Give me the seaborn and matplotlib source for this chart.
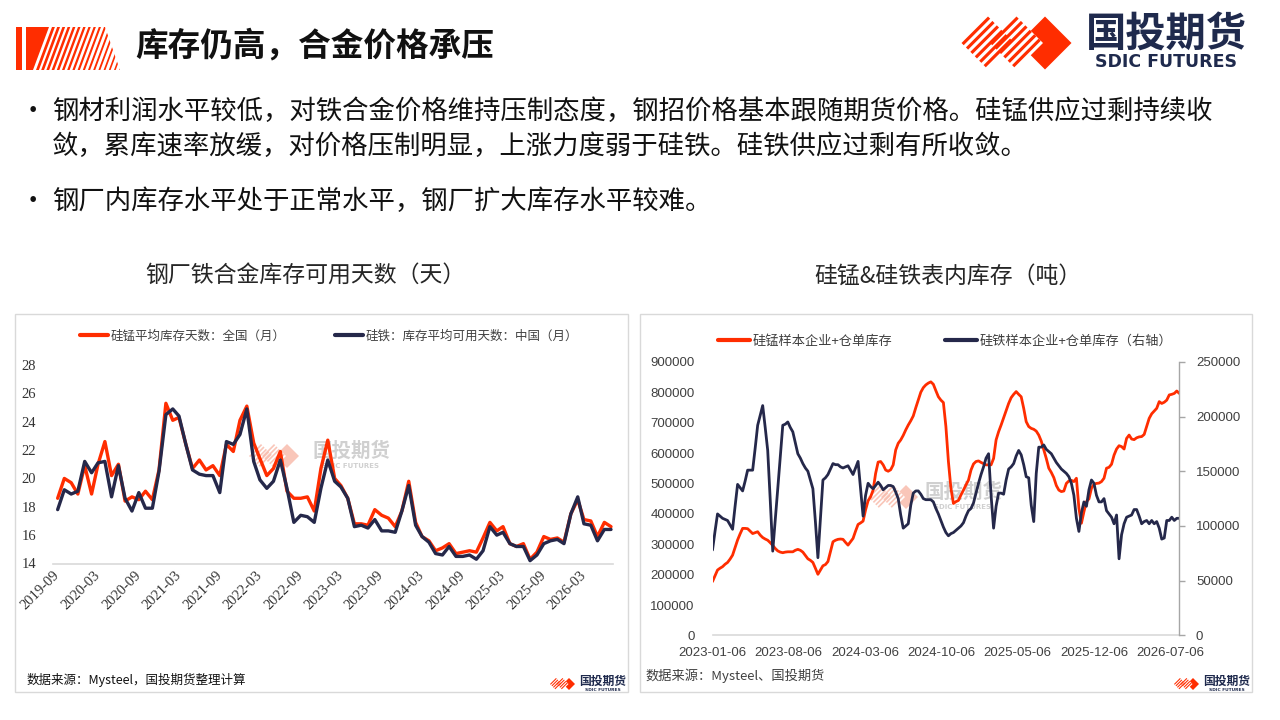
import numpy as np
import pandas as pd
import matplotlib
matplotlib.use('Agg')
import matplotlib.pyplot as plt
from matplotlib.patches import Polygon, Rectangle
from matplotlib.lines import Line2D
import seaborn as sns

# ---- 左图：钢厂铁合金库存可用天数（月度）----
month_dates = pd.date_range('2019-09-01', periods=83, freq='MS')
simn_days = [18.6, 20.0, 19.7, 18.9, 20.9, 18.9, 21.0, 22.6, 20.2, 21.0,
             18.4, 18.7, 18.5, 19.1, 18.5, 20.6, 25.3, 24.1, 24.3, 22.4,
             20.7, 21.3, 20.6, 20.9, 20.2, 22.4, 21.9, 24.1, 25.1, 22.5,
             21.4, 20.2, 20.7, 21.9, 19.1, 18.6, 18.6, 18.7, 17.7, 20.7,
             22.7, 20.0, 19.5, 18.6, 16.8, 16.8, 16.7, 17.8, 17.4, 17.2,
             16.6, 17.7, 19.8, 16.9, 15.9, 15.6, 14.9, 15.1, 15.4, 14.7,
             14.8, 14.9, 14.8, 15.8, 16.9, 16.3, 16.6, 15.4, 15.2, 15.4,
             14.3, 14.8, 15.9, 15.7, 15.8, 15.5, 17.5, 18.5, 17.1, 17.0,
             15.9, 16.9, 16.6]
fesi_days = [17.8, 19.2, 18.9, 19.1, 21.2, 20.4, 21.1, 21.2, 18.7, 20.9,
             18.6, 17.7, 19.0, 17.9, 17.9, 20.5, 24.5, 24.9, 24.4, 22.4,
             20.6, 20.3, 20.2, 20.2, 19.0, 22.6, 22.4, 23.1, 24.9, 21.2,
             19.9, 19.3, 19.8, 21.3, 19.3, 16.9, 17.4, 17.3, 16.9, 19.3,
             21.3, 19.8, 19.4, 18.6, 16.6, 16.7, 16.5, 17.1, 16.3, 16.3,
             16.2, 17.7, 19.5, 16.7, 15.9, 15.5, 14.7, 14.6, 15.2, 14.5,
             14.5, 14.6, 14.3, 14.9, 16.6, 16.0, 16.2, 15.4, 15.2, 15.2,
             14.2, 14.6, 15.4, 15.6, 15.7, 15.4, 17.5, 18.7, 16.8, 16.7,
             15.6, 16.4, 16.4]
left_legend = ['硅锰平均库存天数：全国（月）', '硅铁：库存平均可用天数：中国（月）']

# ---- 右图：硅锰&硅铁表内库存（周度，吨）----
week_dates = pd.date_range('2023-01-06', periods=187, freq='7D')
simn_stock = [177000, 196000, 215000, 221000, 226000, 234000, 240000, 251000, 264000, 289000,
              314000, 334000, 352000, 352000, 351000, 343000, 335000, 338000, 341000, 330000,
              322000, 317000, 313000, 305000, 296000, 286000, 278000, 274000, 272000, 274000,
              275000, 275000, 275000, 280000, 283000, 280000, 274000, 263000, 252000, 247000,
              240000, 221000, 201000, 215000, 229000, 233000, 243000, 275000, 308000, 313000,
              316000, 317000, 316000, 306000, 297000, 308000, 319000, 343000, 365000, 370000,
              376000, 413000, 443000, 456000, 478000, 533000, 570000, 572000, 561000, 544000,
              540000, 545000, 561000, 610000, 632000, 643000, 658000, 676000, 692000, 706000,
              722000, 749000, 774000, 800000, 815000, 824000, 830000, 834000, 826000, 805000,
              785000, 774000, 766000, 687000, 572000, 484000, 434000, 440000, 444000, 462000,
              478000, 495000, 511000, 544000, 564000, 572000, 574000, 569000, 565000, 561000,
              561000, 561000, 582000, 643000, 670000, 692000, 716000, 741000, 763000, 782000,
              793000, 802000, 793000, 785000, 747000, 703000, 687000, 681000, 678000, 672000,
              659000, 639000, 610000, 582000, 550000, 536000, 519000, 493000, 478000, 473000,
              475000, 500000, 508000, 510000, 506000, 517000, 418000, 369000, 407000, 440000,
              449000, 484000, 497000, 500000, 501000, 506000, 517000, 550000, 553000, 563000,
              593000, 613000, 624000, 621000, 613000, 648000, 659000, 646000, 644000, 650000,
              653000, 654000, 661000, 687000, 714000, 729000, 738000, 747000, 769000, 763000,
              767000, 774000, 791000, 793000, 796000, 804000, 796000]
fesi_stock = [78000, 95000, 111000, 109000, 107000, 106000, 105000, 101000, 97000, 118000,
              138000, 135000, 132000, 141000, 151000, 151000, 151000, 171000, 192000, 201000,
              210000, 190000, 169000, 124000, 77000, 105000, 134000, 163000, 192000, 193000,
              195000, 190000, 186000, 176000, 166000, 162000, 157000, 153000, 150000, 142000,
              134000, 104000, 71000, 107000, 142000, 144000, 147000, 152000, 157000, 156000,
              156000, 154000, 153000, 154000, 155000, 151000, 147000, 153000, 159000, 134000,
              109000, 128000, 139000, 136000, 134000, 137000, 140000, 137000, 133000, 135000,
              137000, 137000, 136000, 131000, 125000, 110000, 98000, 100000, 102000, 119000,
              130000, 132000, 132000, 129000, 125000, 124000, 124000, 124000, 122000, 116000,
              111000, 105000, 99000, 94000, 91000, 93000, 94000, 96000, 98000, 100000,
              103000, 109000, 114000, 116000, 121000, 130000, 139000, 147000, 154000, 162000,
              166000, 128000, 98000, 118000, 130000, 130000, 129000, 142000, 152000, 154000,
              157000, 164000, 169000, 165000, 156000, 145000, 144000, 119000, 104000, 148000,
              172000, 172000, 174000, 170000, 168000, 166000, 162000, 158000, 155000, 152000,
              150000, 148000, 145000, 139000, 128000, 107000, 95000, 112000, 122000, 118000,
              133000, 142000, 139000, 128000, 122000, 122000, 125000, 114000, 111000, 108000,
              102000, 110000, 70000, 92000, 102000, 108000, 109000, 110000, 115000, 115000,
              109000, 102000, 104000, 105000, 102000, 105000, 102000, 104000, 98000, 88000,
              89000, 105000, 105000, 108000, 105000, 107000, 107000]
right_legend = ['硅锰样本企业+仓单库存', '硅铁样本企业+仓单库存（右轴）']
right_ticks = ['2023-01-06', '2023-08-06', '2024-03-06', '2024-10-06',
               '2025-05-06', '2025-12-06', '2026-07-06']

title = '库存仍高，合金价格承压'
bullets = [
    ['钢材利润水平较低，对铁合金价格维持压制态度，钢招价格基本跟随期货价格。硅锰供应过剩持续收',
     '敛，累库速率放缓，对价格压制明显，上涨力度弱于硅铁。硅铁供应过剩有所收敛。'],
    ['钢厂内库存水平处于正常水平，钢厂扩大库存水平较难。'],
]

RED = '#FF2D00'
NAVY = '#25284A'
GRID_GRAY = '#D9D9D9'
W, H = 1280, 720

sns.set_theme(style='white')
plt.rcParams['font.family'] = ['Noto Sans CJK SC', 'DejaVu Sans']
plt.rcParams['axes.unicode_minus'] = False

fig = plt.figure(figsize=(12.8, 7.2), dpi=100)
fig.patch.set_facecolor('white')


def box(x0, y0, x1, y1):
    # 像素坐标（左上为原点）转为 figure 坐标
    return [x0 / W, 1 - y1 / H, (x1 - x0) / W, (y1 - y0) / H]


bg = fig.add_axes([0, 0, 1, 1])
bg.set_xlim(0, W)
bg.set_ylim(H, 0)
bg.axis('off')
bg.set_zorder(0)

r2 = np.sqrt(2)


def diamond_pts(cx, cy, h):
    return [(cx, cy - h), (cx + h, cy), (cx, cy + h), (cx - h, cy)]


def draw_logo(cx, cy, h, gap, color=RED, alpha=1.0, n=6):
    s = h * r2

    def pt(ox, u, v):
        return (ox + (u + v) / r2, cy + (-u + v) / r2)

    bg.add_patch(Polygon(diamond_pts(cx, cy, h), closed=True, fc=color, ec='none', alpha=alpha))
    for k, ox in enumerate((cx - gap, cx - 2 * gap)):
        if k == 0:
            bg.add_patch(Polygon(diamond_pts(ox, cy, h), closed=True, fc='white', ec='none'))
        step = s / n
        for i in range(n):
            v0 = -s / 2 + i * step
            v1 = v0 + step * 0.5
            poly = [pt(ox, -s / 2, v0), pt(ox, s / 2, v0), pt(ox, s / 2, v1), pt(ox, -s / 2, v1)]
            bg.add_patch(Polygon(poly, closed=True, fc=color, ec='none', alpha=alpha))


# 左上角条纹标志
bg.add_patch(Rectangle((16, 27), 6, 43, fc=RED, ec='none'))
clip = Polygon([(26, 27), (105, 27), (120, 70), (26, 70)], closed=True, transform=bg.transData)
solid = Polygon([(26, 27), (49, 27), (33, 70), (26, 70)], closed=True, fc=RED, ec='none')
bg.add_patch(solid)
for i in range(18):
    t = 52 + i * 5.2
    wdt = 2.9 - i * 0.08
    p = Polygon([(t, 27), (t + wdt, 27), (t + wdt - 16, 70), (t - 16, 70)], closed=True, fc=RED, ec='none')
    bg.add_patch(p)
    p.set_clip_path(clip)

bg.text(135, 46, title, fontsize=23.5, fontweight='bold', color='#111111', va='center', ha='left')

# 右上角标志
draw_logo(1045, 43, 26.5, 28.5)
bg.text(1166, 35, '国投期货', fontsize=29, fontweight='bold', color='#1F2A4D', ha='center', va='center')
bg.text(1166, 62, 'SDIC FUTURES', fontsize=12.5, fontweight='bold', color='#1F2A4D', ha='center', va='center',
        family=['DejaVu Sans'])

# 要点文字
y_pos = [[111, 146], [201]]
for lines, ys in zip(bullets, y_pos):
    bg.text(33, ys[0], '•', fontsize=19, color='#111111', ha='center', va='center')
    for line, yy in zip(lines, ys):
        bg.text(52, yy, line, fontsize=19, color='#111111', ha='left', va='center')

# 图标题
bg.text(305, 276, '钢厂铁合金库存可用天数（天）', fontsize=16.5, color='#262626', ha='center', va='center')
bg.text(948, 276, '硅锰&硅铁表内库存（吨）', fontsize=16.5, color='#262626', ha='center', va='center')

# 图框
bg.add_patch(Rectangle((15, 314), 613, 378, fc='none', ec=GRID_GRAY, lw=1))
bg.add_patch(Rectangle((640, 314), 612, 378, fc='none', ec=GRID_GRAY, lw=1))

# 水印
draw_logo(287, 456, 12, 13, color='#F8B8A8', alpha=0.8, n=5)
bg.text(351, 451, '国投期货', fontsize=14, fontweight='bold', color='#D0D0D0', ha='center', va='center')
bg.text(351, 466, 'SDIC FUTURES', fontsize=5, fontweight='bold', color='#D0D0D0', ha='center', va='center',
        family=['DejaVu Sans'])
draw_logo(906, 497, 12, 13, color='#F8B8A8', alpha=0.8, n=5)
bg.text(963, 492, '国投期货', fontsize=14, fontweight='bold', color='#D0D0D0', ha='center', va='center')
bg.text(963, 507, 'SDIC FUTURES', fontsize=5, fontweight='bold', color='#D0D0D0', ha='center', va='center',
        family=['DejaVu Sans'])

# 数据来源与小标志
bg.text(27, 680, '数据来源：Mysteel，国投期货整理计算', fontsize=9, color='#111111', ha='left', va='center')
bg.text(645, 676, '数据来源：Mysteel、国投期货', fontsize=9.5, color='#404040', ha='left', va='center')
for cx in (569, 1193):
    draw_logo(cx, 684, 6, 6.5, n=4)
    bg.text(cx + 34, 681, '国投期货', fontsize=8.5, fontweight='bold', color='#1F2A4D', ha='center', va='center')
    bg.text(cx + 34, 690, 'SDIC FUTURES', fontsize=3.2, fontweight='bold', color='#1F2A4D', ha='center',
            va='center', family=['DejaVu Sans'])

# ---- 左图 ----
axL = fig.add_axes(box(53, 365, 613, 563.5))
axL.set_facecolor('none')
sns.lineplot(x=month_dates, y=simn_days, ax=axL, color=RED, linewidth=2.4)
sns.lineplot(x=month_dates, y=fesi_days, ax=axL, color=NAVY, linewidth=2.4)
axL.set_ylim(14, 28)
axL.set_yticks(np.arange(14, 29, 2))
axL.set_xlim(month_dates[0] - pd.Timedelta(days=21), month_dates[-1] + pd.Timedelta(days=9))
xt = month_dates[::6]
axL.set_xticks(xt)
axL.set_xticklabels([d.strftime('%Y-%m') for d in xt], rotation=45, ha='right', va='center',
                    rotation_mode='anchor')
axL.tick_params(axis='y', length=0, pad=12, labelsize=10.5, labelcolor='#333333')
axL.tick_params(axis='x', length=0, pad=7, labelsize=10.5, labelcolor='#333333')
for lab in axL.get_xticklabels() + axL.get_yticklabels():
    lab.set_family(['Liberation Serif', 'DejaVu Serif'])
axL.set_xlabel('')
axL.set_ylabel('')
for side in ('top', 'right', 'left'):
    axL.spines[side].set_visible(False)
axL.spines['bottom'].set_color(GRID_GRAY)
axL.spines['bottom'].set_linewidth(1.2)
axL.grid(False)

fig.legend([Line2D([], [], color=RED, lw=3), Line2D([], [], color=NAVY, lw=3)], left_legend,
           loc='center', bbox_to_anchor=(329 / W, 1 - 336 / H), ncol=2, frameon=False, fontsize=9,
           handlelength=2.2, handletextpad=0.2, columnspacing=4.0, labelcolor='#404040')

# ---- 右图 ----
axR = fig.add_axes(box(712.5, 361.8, 1179.3, 635.4))
axR.set_facecolor('none')
sns.lineplot(x=week_dates, y=simn_stock, ax=axR, color=RED, linewidth=2.0)
axR2 = axR.twinx()
sns.lineplot(x=week_dates, y=fesi_stock, ax=axR2, color=NAVY, linewidth=2.0)
axR.set_ylim(0, 900000)
axR2.set_ylim(0, 250000)
axR.set_yticks(np.arange(0, 900001, 100000))
axR.set_yticklabels([str(v) for v in range(0, 900001, 100000)])
axR2.set_yticks(np.arange(0, 250001, 50000))
axR2.set_yticklabels([str(v) for v in range(0, 250001, 50000)])
axR.set_xlim(week_dates[0], week_dates[-1])
axR.set_xticks(pd.to_datetime(right_ticks))
axR.set_xticklabels(right_ticks)
axR.tick_params(axis='y', length=0, pad=13, labelsize=9.5, labelcolor='#404040')
axR.tick_params(axis='x', length=0, pad=8, labelsize=9.5, labelcolor='#404040')
axR2.tick_params(axis='y', length=4, width=1, color='#A6A6A6', pad=8, labelsize=9.5, labelcolor='#404040',
                 direction='out')
for a in (axR, axR2):
    for lab in a.get_xticklabels() + a.get_yticklabels():
        lab.set_family(['Liberation Sans', 'DejaVu Sans'])
    a.set_xlabel('')
    a.set_ylabel('')
    a.grid(False)
    a.spines['top'].set_visible(False)
    a.spines['left'].set_visible(False)
axR.spines['right'].set_visible(False)
axR2.spines['bottom'].set_visible(False)
axR.spines['bottom'].set_color(GRID_GRAY)
axR.spines['bottom'].set_linewidth(1.2)
axR2.spines['right'].set_color('#A6A6A6')
axR2.spines['right'].set_linewidth(1)

fig.legend([Line2D([], [], color=RED, lw=3), Line2D([], [], color=NAVY, lw=3)], right_legend,
           loc='center', bbox_to_anchor=(945 / W, 1 - 341 / H), ncol=2, frameon=False, fontsize=9.5,
           handlelength=2.4, handletextpad=0.2, columnspacing=4.0, labelcolor='#404040')

fig.savefig('out.png', dpi=100)
